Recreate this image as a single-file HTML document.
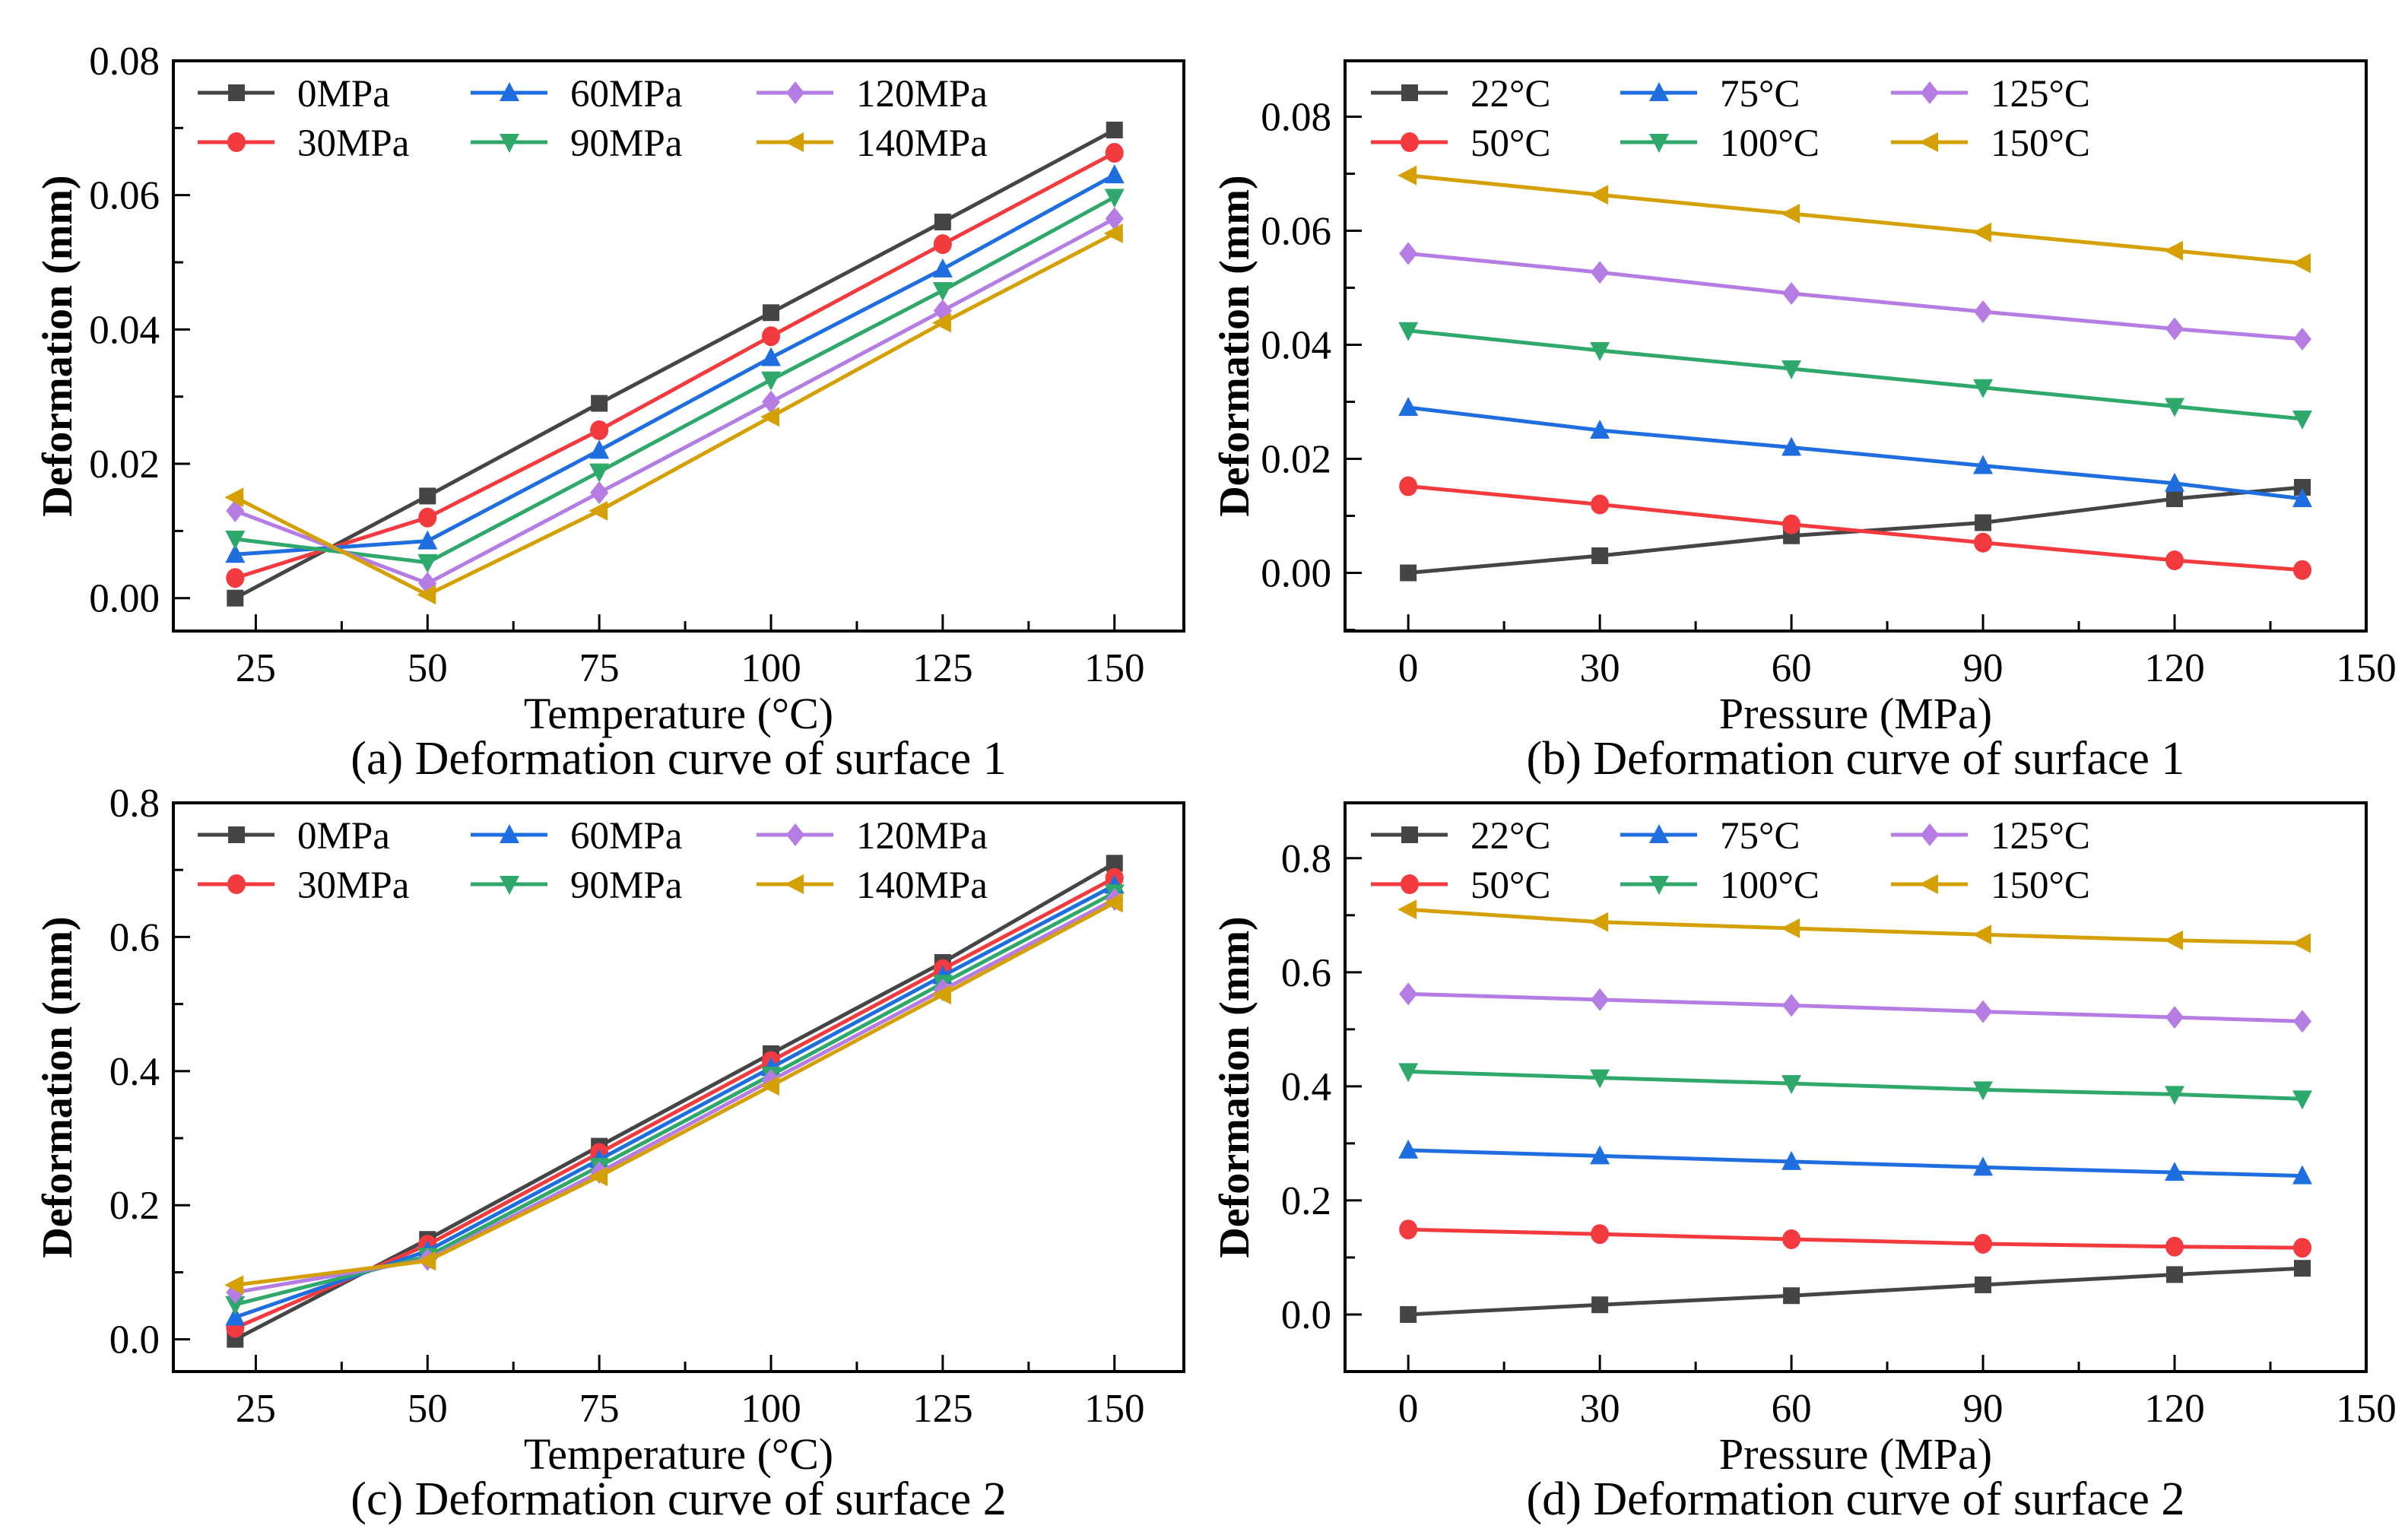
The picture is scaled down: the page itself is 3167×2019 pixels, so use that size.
<!DOCTYPE html>
<html><head><meta charset="utf-8"><style>
html,body{margin:0;padding:0;background:#fff;}
svg{display:block;font-family:"Liberation Serif",serif;}
</style></head><body>
<svg id="fig" width="3167" height="2019" viewBox="0 0 3167 2019" xmlns="http://www.w3.org/2000/svg"></svg>
<script>
const tempsX = [22, 50, 75, 100, 125, 150];
const pressX = [0, 30, 60, 90, 120, 140];
const pressNames = ["0MPa","30MPa","60MPa","90MPa","120MPa","140MPa"];
const tempNames = ["22°C","50°C","75°C","100°C","125°C","150°C"];
// surface 1, rows = temperature, cols = pressure
const s1_22 = [0, 0.003, 0.0065, 0.0088, 0.013, 0.015];
const s1_50 = [0.0152, 0.012, 0.0085, 0.0053, 0.0022, 0.0005];
const s1_75 = [0.029, 0.025, 0.022, 0.0188, 0.0157, 0.013];
const s1_100 = [0.0425, 0.039, 0.0358, 0.0325, 0.0292, 0.027];
const s1_125 = [0.056, 0.0527, 0.049, 0.0458, 0.0428, 0.041];
const s1_150 = [0.0697, 0.0663, 0.063, 0.0597, 0.0565, 0.0543];
// surface 2
const s2_22 = [0, 0.017, 0.033, 0.052, 0.07, 0.081];
const s2_50 = [0.149, 0.141, 0.132, 0.124, 0.119, 0.117];
const s2_75 = [0.288, 0.278, 0.268, 0.258, 0.249, 0.243];
const s2_100 = [0.426, 0.415, 0.405, 0.394, 0.386, 0.378];
const s2_125 = [0.562, 0.552, 0.542, 0.531, 0.521, 0.514];
const s2_150 = [0.71, 0.688, 0.677, 0.666, 0.656, 0.651];
const xTicksT = [25, 50, 75, 100, 125, 150];
const xTicksP = [0, 30, 60, 90, 120, 150];
const yTicksA = ["0.00","0.02","0.04","0.06","0.08"];
const yTicksB = ["0.00","0.02","0.04","0.06","0.08"];
const yTicksC = ["0.0","0.2","0.4","0.6","0.8"];

const S1 = [s1_22, s1_50, s1_75, s1_100, s1_125, s1_150];
const S2 = [s2_22, s2_50, s2_75, s2_100, s2_125, s2_150];
const colors = ["#454545","#f23a3f","#1f6ee0","#2fa86c","#b57de3","#d4a004"];
const markers = ["square","circle","up","down","diamond","left"];
const NS = "http://www.w3.org/2000/svg";
const svg = document.getElementById("fig");
function mk(tag, attrs, parent){
  const e = document.createElementNS(NS, tag);
  for (const k in attrs) e.setAttribute(k, attrs[k]);
  (parent||svg).appendChild(e); return e;
}
function marker(g, type, x, y, c){
  const r = 12; let e;
  if (type==="square") e = mk("rect",{x:x-r+1,y:y-r+1,width:2*r-2,height:2*r-2,fill:c},g);
  else if (type==="circle") e = mk("ellipse",{cx:x,cy:y,rx:r,ry:r+1,fill:c},g);
  else if (type==="up") e = mk("polygon",{points:`${x},${y-r-2} ${x-r-1},${y+r-1} ${x+r+1},${y+r-1}`,fill:c},g);
  else if (type==="down") e = mk("polygon",{points:`${x},${y+r+2} ${x-r-1},${y-r+1} ${x+r+1},${y-r+1}`,fill:c},g);
  else if (type==="diamond") e = mk("polygon",{points:`${x},${y-r-3} ${x+r},${y} ${x},${y+r+3} ${x-r},${y}`,fill:c},g);
  else e = mk("polygon",{points:`${x-r-2},${y} ${x+r-1},${y-r-1} ${x+r-1},${y+r+1}`,fill:c},g);
  
  
}
function panel(cfg){
  const g = mk("g",{});
  
  
  const {L,R,T,B,xmin,xmax,ymin,ymax} = cfg;
  const sx = v => L + (v-xmin)/(xmax-xmin)*(R-L);
  const sy = v => B - (v-ymin)/(ymax-ymin)*(B-T);
  for (let i=0;i<6;i++){
    const ys = cfg.series(i);
    const pts = cfg.xs.map((x,j)=>`${sx(x)},${sy(ys[j])}`).join(" ");
    const pl = mk("polyline",{points:pts,fill:"none",stroke:colors[i],"stroke-width":5,"stroke-linejoin":"round"},g);
    
    
    cfg.xs.forEach((x,j)=>marker(g, markers[i], sx(x), sy(ys[j]), colors[i]));
  }
  const fr = mk("rect",{x:L,y:T,width:R-L,height:B-T,fill:"none",stroke:"#000","stroke-width":4},g);
  
  
  const xt = cfg.xticks;
  const step = xt[1]-xt[0];
  for (let v=xt[0]-step/2; v<=xt[xt.length-1]+0.01; v+=step/2){
    if (v < xmin || v > xmax) continue;
    const major = xt.some(t=>Math.abs(t-v)<1e-6);
    mk("line",{x1:sx(v),x2:sx(v),y1:B,y2:B-(major?22:13),stroke:"#000","stroke-width":3},g);
  }
  xt.forEach(v=>{
    const t = mk("text",{x:sx(v),y:B+66,"font-size":53,"text-anchor":"middle"},g);
    t.textContent = v;
    
    
  });
  const yt = cfg.yticks.map(Number);
  const ys = yt[1]-yt[0];
  for (let v=yt[0]-ys/2; v<=yt[yt.length-1]+ys/2+1e-9; v+=ys/2){
    if (v < ymin-1e-9 || v > ymax+1e-9) continue;
    const major = yt.some(t=>Math.abs(t-v)<1e-9);
    mk("line",{x1:L,x2:L+(major?22:13),y1:sy(v),y2:sy(v),stroke:"#000","stroke-width":3},g);
  }
  cfg.yticks.forEach(s=>{
    const t = mk("text",{x:L-18,y:sy(Number(s))+18,"font-size":53,"text-anchor":"end"},g);
    t.textContent = s;
    
    
  });
  const xtl = mk("text",{x:(L+R)/2,y:B+128,"font-size":58,"text-anchor":"middle"},g);
  xtl.textContent = cfg.xtitle;
  
  
  const ytl = mk("text",{x:0,y:0,"font-size":56,"font-weight":"bold","text-anchor":"middle",transform:`translate(${cfg.ytx},${(T+B)/2}) rotate(-90)`},g);
  ytl.textContent = "Deformation (mm)";
  
  
  const cap = mk("text",{x:(L+R)/2+(cfg.capdx||0),y:B+188,"font-size":62,"text-anchor":"middle"},g);
  cap.textContent = cfg.caption;
  
  
  const colX = cfg.legX;
  for (let i=0;i<6;i++){
    const col = Math.floor(i/2), row = i%2;
    const y = T + 42 + row*65;
    const x0 = colX[col];
    const le = mk("g",{},g);
    
    
    mk("line",{x1:x0,x2:x0+101,y1:y,y2:y,stroke:colors[i],"stroke-width":5},le);
    marker(le, markers[i], x0+51, y, colors[i]);
    const t = mk("text",{x:x0+131,y:y+18,"font-size":51},le);
    t.textContent = cfg.names[i];
  }
}
panel({name:"panel-a",L:228,R:1557,T:80,B:830,xmin:13,xmax:160.1,ymin:-0.0049,ymax:0.08,
  xs:tempsX,series:i=>S1.map(r=>r[i]),names:pressNames,xticks:xTicksT,yticks:yTicksA,
  xtitle:"Temperature (°C)",caption:"(a) Deformation curve of surface 1",ytx:94,legX:[260,619,995]});
panel({name:"panel-b",L:1769,R:3112,T:80,B:830,xmin:-9.9,xmax:150,ymin:-0.0102,ymax:0.0898,
  xs:pressX,series:i=>S1[i],names:tempNames,xticks:xTicksP,yticks:yTicksB,
  xtitle:"Pressure (MPa)",caption:"(b) Deformation curve of surface 1",ytx:1642,legX:[1803,2131,2487]});
panel({name:"panel-c",L:228,R:1557,T:1056,B:1804,xmin:13,xmax:160.1,ymin:-0.048,ymax:0.8,
  xs:tempsX,series:i=>S2.map(r=>r[i]),names:pressNames,xticks:xTicksT,yticks:yTicksC,
  xtitle:"Temperature (°C)",caption:"(c) Deformation curve of surface 2",ytx:94,legX:[260,619,995]});
panel({name:"panel-d",L:1769,R:3112,T:1056,B:1804,xmin:-9.9,xmax:150,ymin:-0.1,ymax:0.897,
  xs:pressX,series:i=>S2[i],names:tempNames,xticks:xTicksP,yticks:yTicksC,
  xtitle:"Pressure (MPa)",caption:"(d) Deformation curve of surface 2",ytx:1642,legX:[1803,2131,2487]});
</script>
</body></html>
